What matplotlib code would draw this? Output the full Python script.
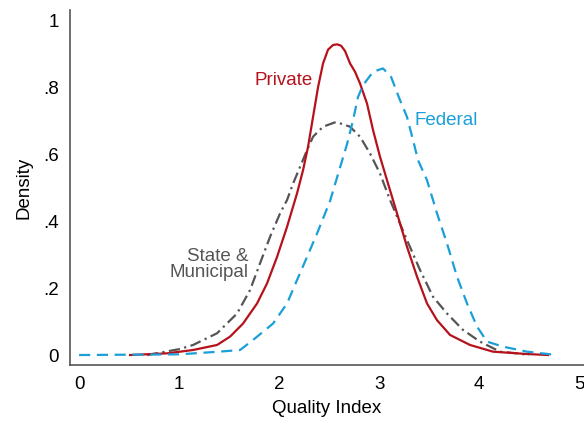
import numpy as np
import matplotlib.pyplot as plt
from matplotlib.ticker import FuncFormatter

plt.rcParams['font.family'] = ['Liberation Sans', 'DejaVu Sans']

# density curves
private_x = [0.51, 0.88, 1.01, 1.14, 1.38, 1.51, 1.64, 1.78, 1.88, 1.98, 2.08, 2.18, 2.24, 2.29,
             2.34, 2.39, 2.44, 2.49, 2.54, 2.58, 2.62, 2.66, 2.71, 2.76, 2.81, 2.88, 2.94, 3.01,
             3.08, 3.18, 3.28, 3.38, 3.48, 3.58, 3.71, 3.91, 4.14, 4.48, 4.69]
private_y = [0.0, 0.005, 0.01, 0.015, 0.03, 0.055, 0.094, 0.154, 0.214, 0.293, 0.383, 0.483, 0.552, 0.622,
             0.711, 0.80, 0.871, 0.912, 0.926, 0.928, 0.924, 0.908, 0.871, 0.846, 0.811, 0.751, 0.672, 0.592,
             0.522, 0.423, 0.323, 0.234, 0.154, 0.104, 0.06, 0.03, 0.01, 0.003, 0.0]

federal_x = [0.0, 1.0, 1.4, 1.61, 1.74, 1.94, 2.08, 2.18, 2.28, 2.38, 2.51, 2.59, 2.68, 2.74, 2.79,
             2.84, 2.94, 3.04, 3.12, 3.21, 3.28, 3.34, 3.39, 3.48, 3.58, 3.68, 3.78, 3.88, 3.98,
             4.08, 4.24, 4.48, 4.78]
federal_y = [0.0, 0.002, 0.01, 0.015, 0.045, 0.094, 0.154, 0.224, 0.293, 0.363, 0.46, 0.54, 0.63, 0.701, 0.771,
             0.806, 0.846, 0.856, 0.831, 0.761, 0.711, 0.642, 0.582, 0.522, 0.423, 0.333, 0.234, 0.154, 0.085,
             0.04, 0.025, 0.01, 0.0]

state_x = [0.68, 1.01, 1.14, 1.38, 1.58, 1.71, 1.81, 1.91, 2.01, 2.08, 2.14, 2.21, 2.28, 2.34, 2.44,
           2.57, 2.71, 2.81, 2.91, 3.01, 3.11, 3.28, 3.41, 3.54, 3.68, 3.84, 4.01, 4.21, 4.38, 4.5]
state_y = [0.0, 0.018, 0.03, 0.065, 0.124, 0.194, 0.274, 0.353, 0.423, 0.463, 0.512, 0.562, 0.612, 0.652, 0.682,
           0.696, 0.682, 0.652, 0.602, 0.542, 0.463, 0.343, 0.254, 0.174, 0.124, 0.075, 0.04, 0.01, 0.005, 0.0]

xticks = [0, 1, 2, 3, 4, 5]
yticks = [0, 0.2, 0.4, 0.6, 0.8, 1.0]

red = '#b5121b'
blue = '#1a9fd9'
gray = '#555555'

fig = plt.figure(figsize=(5.84, 4.24), dpi=100)
ax = fig.add_axes([0.12, 0.139, 0.88, 0.837])

ax.plot(state_x, state_y, color=gray, lw=1.6, dashes=[5, 2, 1, 2])
ax.plot(private_x, private_y, color=red, lw=1.6)
ax.plot(federal_x, federal_y, color=blue, lw=1.6, dashes=[5, 3])

ax.text(2.05, 0.82, 'Private', color=red, fontsize=13.5, ha='center', va='center')
ax.text(3.67, 0.70, 'Federal', color=blue, fontsize=13.5, ha='center', va='center')
ax.text(1.69, 0.27, 'State &\nMunicipal', color=gray, fontsize=13.5, ha='right', va='center',
        linespacing=0.95, multialignment='right')

ax.set_xlim(-0.09, 5.05)
ax.set_ylim(-0.03, 1.03)
ax.set_xticks(xticks)
ax.set_yticks(yticks)
ax.yaxis.set_major_formatter(FuncFormatter(lambda v, p: '0' if v == 0 else ('1' if v == 1 else ('%.1f' % v).lstrip('0'))))
ax.tick_params(length=0, labelsize=13.5, pad=8)
ax.set_xlabel('Quality Index', fontsize=13.5, labelpad=5)
ax.set_ylabel('Density', fontsize=13.5, labelpad=8)
for s in ['top', 'right']:
    ax.spines[s].set_visible(False)
for s in ['left', 'bottom']:
    ax.spines[s].set_color('#555555')
    ax.spines[s].set_linewidth(1.2)

fig.savefig('out.png', dpi=100)
